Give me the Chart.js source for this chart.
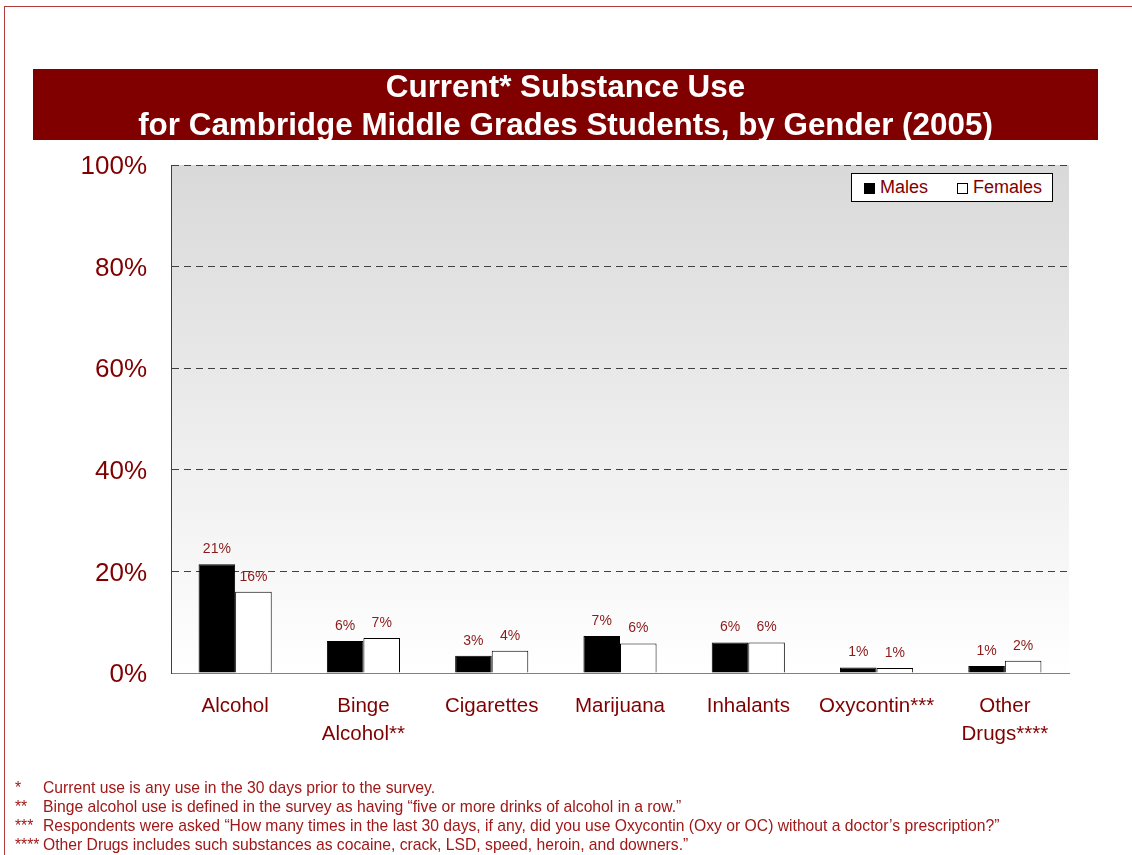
<!DOCTYPE html>
<html>
<head>
<meta charset="utf-8">
<script src="https://cdn.jsdelivr.net/npm/chart.js@4/dist/chart.umd.min.js"></script>
<style>
  html, body { margin: 0; padding: 0; background: #ffffff; }
  body { width: 1132px; height: 855px; position: relative; overflow: hidden; font-family: "Liberation Sans", Arial, sans-serif; }
  #topline { position: absolute; left: 4px; top: 6px; width: 1128px; height: 1px; background: #b23c3c; }
  #leftline { position: absolute; left: 4px; top: 6px; width: 1px; height: 849px; background: #b23c3c; }
  #titlebar { position: absolute; left: 33px; top: 69px; width: 1065px; height: 71px; background: #800000; color: #ffffff; font-weight: bold; font-size: 31.4px; line-height: 38px; text-align: center; overflow: visible; }
  #titlebar div { position: relative; top: -1px; }
  #wrap { position: absolute; left: 0; top: 0; width: 1132px; height: 855px; }
  #legend { position: absolute; left: 851px; top: 173px; width: 202px; height: 29px; box-sizing: border-box; border: 1px solid #000; background: #fff; font-size: 18px; color: #800000; }
  #legend .item { position: absolute; top: 0; height: 27px; line-height: 27px; white-space: nowrap; }
  #legend .sw { display: inline-block; width: 11px; height: 11px; box-sizing: border-box; border: 1px solid #000; margin-right: 5px; vertical-align: -1px; }
  #notes { position: absolute; left: 15px; top: 778px; font-size: 15.7px; line-height: 19px; color: #a01818; white-space: nowrap; }
  #notes .m { display: inline-block; width: 28px; }
</style>
</head>
<body>
<div id="topline"></div>
<div id="leftline"></div>
<div id="wrap"><canvas id="c" width="1132" height="855"></canvas></div>
<div id="titlebar"><div>Current* Substance Use<br>for Cambridge Middle Grades Students, by Gender (2005)</div></div>
<div id="legend"></div>
<div id="notes"></div>
<script>
const categories = ['Alcohol', ['Binge', 'Alcohol**'], 'Cigarettes', 'Marijuana', 'Inhalants', 'Oxycontin***', ['Other', 'Drugs****']];
const malesValues = [21.4, 6.3, 3.4, 7.3, 6.0, 1.1, 1.4];
const femalesValues = [16.0, 6.9, 4.4, 5.8, 6.0, 1.0, 2.4];
const seriesNames = ['Males', 'Females'];
const yTicks = [0, 20, 40, 60, 80, 100];
const footnoteMarks = ['*', '**', '***', '****'];
const footnoteTexts = [
  'Current use is any use in the 30 days prior to the survey.',
  'Binge alcohol use is defined in the survey as having \u201cfive or more drinks of alcohol in a row.\u201d',
  'Respondents were asked \u201cHow many times in the last 30 days, if any, did you use Oxycontin (Oxy or OC) without a doctor\u2019s prescription?\u201d',
  'Other Drugs includes such substances as cocaine, crack, LSD, speed, heroin, and downers.\u201d'
];

// footnotes
const notes = document.getElementById('notes');
footnoteTexts.forEach((t, i) => {
  const d = document.createElement('div');
  const m = document.createElement('span'); m.className = 'm'; m.textContent = footnoteMarks[i];
  d.appendChild(m); d.appendChild(document.createTextNode(t));
  notes.appendChild(d);
});

const AREA = { left: 171, right: 1069, top: 165, bottom: 673 };

const bgPlugin = {
  id: 'bg',
  beforeDraw(chart) {
    const { ctx, chartArea: a } = chart;
    const g = ctx.createLinearGradient(0, a.top, 0, a.bottom);
    g.addColorStop(0, '#d9d9d9');
    g.addColorStop(1, '#ffffff');
    ctx.save();
    ctx.fillStyle = g;
    ctx.fillRect(a.left, a.top, a.right - a.left, a.bottom - a.top);
    ctx.restore();
  }
};

const labelPlugin = {
  id: 'vlabels',
  afterDatasetsDraw(chart) {
    const ctx = chart.ctx;
    ctx.save();
    ctx.font = '14px "Liberation Sans", Arial, sans-serif';
    ctx.fillStyle = '#8b1a1a';
    ctx.textAlign = 'center';
    ctx.textBaseline = 'bottom';
    chart.data.datasets.forEach((ds, di) => {
      const meta = chart.getDatasetMeta(di);
      meta.data.forEach((el, i) => {
        ctx.fillText(Math.round(ds.data[i]) + '%', el.x, el.y - 8);
      });
    });
    ctx.restore();
  }
};

const chart = new Chart(document.getElementById('c'), {
  type: 'bar',
  data: {
    labels: categories,
    datasets: [
      { label: seriesNames[0], data: malesValues, backgroundColor: '#000000', borderColor: '#000000', borderWidth: 1 },
      { label: seriesNames[1], data: femalesValues, backgroundColor: '#ffffff', borderColor: '#000000', borderWidth: 1 }
    ]
  },
  options: {
    responsive: false,
    animation: false,
    layout: { padding: { left: 0, right: 1132 - AREA.right, top: AREA.top, bottom: 0 } },
    datasets: { bar: { categoryPercentage: 0.57, barPercentage: 1.0 } },
    plugins: {
      legend: { display: false },
      tooltip: { enabled: false },
      title: { display: false }
    },
    scales: {
      x: {
        grid: { display: false },
        border: { display: true, color: '#808080', width: 1 },
        ticks: {
          color: '#800000',
          font: { family: '"Liberation Sans", Arial, sans-serif', size: 20.5, lineHeight: 1.33 },
          padding: 12,
          maxRotation: 0,
          autoSkip: false
        },
        afterFit(s) { s.height = 855 - AREA.bottom; }
      },
      y: {
        min: 0, max: 100,
        afterBuildTicks(s) { s.ticks = yTicks.map(v => ({ value: v })); },
        grid: {
          drawTicks: false,
          color: ctx => (ctx.tick && ctx.tick.value === 0) ? 'rgba(0,0,0,0)' : '#404040',
          lineWidth: 1
        },
        border: { display: true, color: '#404040', width: 1, dash: [7, 5] },
        ticks: {
          color: '#800000',
          font: { family: '"Liberation Sans", Arial, sans-serif', size: 26 },
          padding: 24,
          labelOffset: 2,
          callback: v => v + '%'
        },
        afterFit(s) { s.width = AREA.left; }
      }
    }
  },
  plugins: [bgPlugin, labelPlugin]
});

// legend built from datasets
const leg = document.getElementById('legend');
const legPos = [12, 105];
chart.data.datasets.forEach((ds, i) => {
  const it = document.createElement('div');
  it.className = 'item';
  it.style.left = legPos[i] + 'px';
  const sw = document.createElement('span');
  sw.className = 'sw';
  sw.style.background = ds.backgroundColor;
  it.appendChild(sw);
  it.appendChild(document.createTextNode(ds.label));
  leg.appendChild(it);
});
</script>
</body>
</html>
